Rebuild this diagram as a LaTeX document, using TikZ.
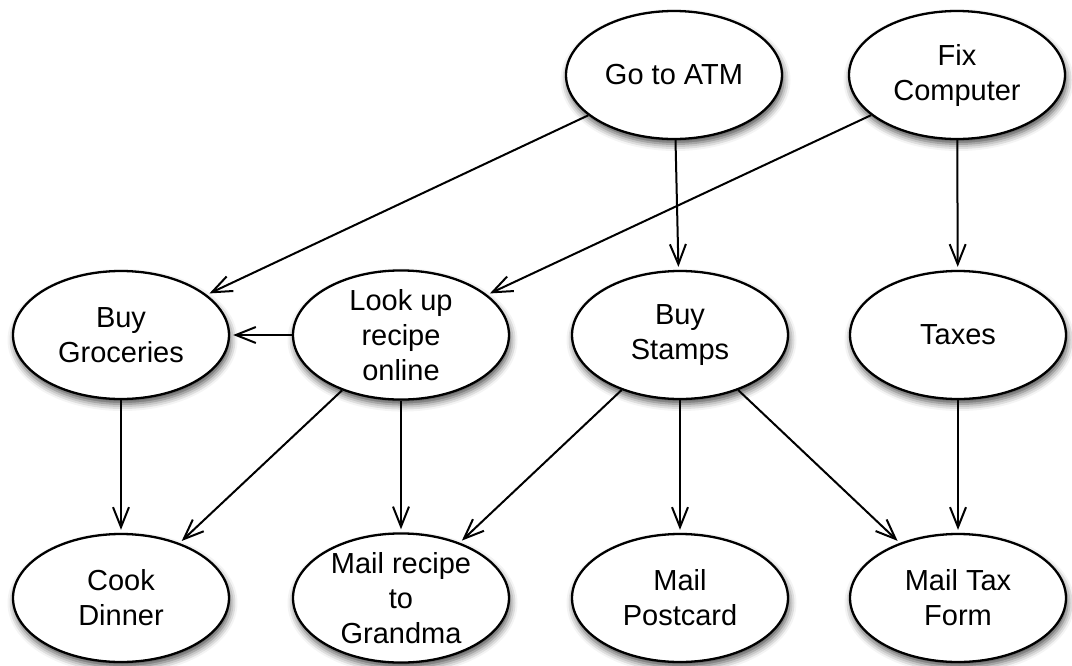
\documentclass[tikz,border=0pt]{standalone}
\usepackage{fontspec}
\setmainfont{Liberation Sans}
\usetikzlibrary{shapes.geometric,arrows.meta,shadows.blur}
\begin{document}
\begin{tikzpicture}[x=1pt,y=-1pt,
  task/.style={ellipse, draw, line width=2.3pt, fill=white,
    minimum width=216pt, minimum height=128pt, inner sep=0pt, align=center,
    font=\fontsize{29}{35}\selectfont,
    blur shadow={shadow xshift=1.5pt, shadow yshift=-5pt, shadow blur radius=7pt, shadow opacity=70}},
  link/.style={-{Straight Barb[length=20pt,width=16pt,line width=2pt]}, line width=2pt, shorten >=3pt}]
\useasboundingbox (0,0) rectangle (1072,665);
\node[task] (atm) at (674,75) {Go to ATM};
\node[task] (fix) at (957,75) {Fix\\Computer};
\node[task] (gro) at (121,335) {Buy\\Groceries};
\node[task] (rec) at (401,335) {Look up\\recipe\\online};
\node[task] (sta) at (680,335) {Buy\\Stamps};
\node[task] (tax) at (958,335) {Taxes};
\node[task] (coo) at (121,598) {Cook\\Dinner};
\node[task] (mre) at (401,598) {Mail recipe\\to\\Grandma};
\node[task] (mpo) at (680,598) {Mail\\Postcard};
\node[task] (mtf) at (958,598) {Mail Tax\\Form};
\draw[link] (atm) -- (gro);
\draw[link] (atm) -- (sta);
\draw[link] (fix) -- (rec);
\draw[link] (fix) -- (tax);
\draw[link] (rec) -- (gro);
\draw[link] (gro) -- (coo);
\draw[link] (rec) -- (coo);
\draw[link] (rec) -- (mre);
\draw[link] (sta) -- (mre);
\draw[link] (sta) -- (mpo);
\draw[link] (sta) -- (mtf);
\draw[link] (tax) -- (mtf);
\end{tikzpicture}
\end{document}
